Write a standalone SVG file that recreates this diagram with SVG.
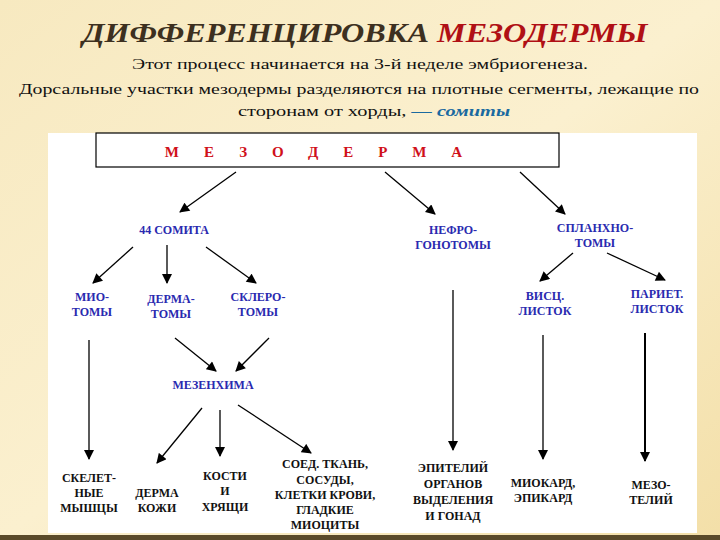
<svg xmlns="http://www.w3.org/2000/svg" width="720" height="540" viewBox="0 0 720 540">
<defs>
<linearGradient id="bg" x1="0" y1="0" x2="1" y2="1"><stop offset="0" stop-color="#f7e9c0"/><stop offset="0.5" stop-color="#fbf0cf"/><stop offset="1" stop-color="#f3dfa8"/></linearGradient>
<marker id="ah" viewBox="0 0 10 10" refX="9" refY="5" markerWidth="11" markerHeight="10" orient="auto" markerUnits="userSpaceOnUse"><path d="M0,0 L10,5 L0,10 z" fill="#000"/></marker>
<style>
.s{font-family:"Liberation Serif","DejaVu Serif Condensed","DejaVu Serif",serif}
.t{font-family:"Liberation Serif","DejaVu Serif Condensed","DejaVu Serif",serif;font-weight:bold;font-size:12px;text-anchor:middle}
.b{fill:#2a2ab0}.k{fill:#111}
.c line{stroke:#000;stroke-width:1.3}
.a{marker-end:url(#ah)}
</style>
</defs>
<rect width="720" height="540" fill="url(#bg)"/>
<rect x="0" y="535" width="720" height="5" fill="#5a4a2a"/>
<text class="s" x="365" y="42" text-anchor="middle" font-weight="bold" font-style="italic" font-size="27" fill="#3d3020" textLength="565" lengthAdjust="spacingAndGlyphs">ДИФФЕРЕНЦИРОВКА <tspan fill="#b01015">МЕЗОДЕРМЫ</tspan></text>
<g class="s" font-size="15" fill="#111" text-anchor="middle">
<text x="360" y="69" textLength="456" lengthAdjust="spacingAndGlyphs">Этот процесс начинается на 3-й неделе эмбриогенеза.</text>
<text x="359" y="94" textLength="680" lengthAdjust="spacingAndGlyphs">Дорсальные участки мезодермы разделяются на плотные сегменты, лежащие по</text>
<text x="374" y="116" textLength="272" lengthAdjust="spacingAndGlyphs">сторонам от хорды, <tspan fill="#1a6aa0" font-weight="bold" font-style="italic">— сомиты</tspan></text>
</g>
<rect x="48" y="133" width="649" height="400" fill="#fff"/>
<g id="mesoderm"><rect x="96" y="133" width="463" height="34" fill="#fff" stroke="#000" stroke-width="1.2"/>
<text class="s" x="326" y="157" text-anchor="middle" font-weight="bold" font-size="15" fill="#d0101a" letter-spacing="25">МЕЗОДЕРМА</text></g>
<g class="c">
<line class="a" x1="236" y1="172" x2="180" y2="212"/>
<line class="a" x1="385" y1="172" x2="435" y2="214"/>
<line class="a" x1="520" y1="172" x2="565" y2="214"/>
<line class="a" x1="133" y1="247" x2="93" y2="283"/>
<line class="a" x1="167" y1="245" x2="167" y2="283"/>
<line class="a" x1="206" y1="247" x2="256" y2="283"/>
<line class="a" x1="573" y1="253" x2="540" y2="281"/>
<line class="a" x1="607" y1="253" x2="665" y2="280"/>
<line class="a" x1="175" y1="338" x2="216" y2="371"/>
<line class="a" x1="269" y1="338" x2="236" y2="371"/>
<line class="a" x1="89" y1="340" x2="89" y2="459"/>
<line class="a" x1="453" y1="290" x2="453" y2="450"/>
<line class="a" x1="543" y1="335" x2="543" y2="459"/>
<line class="a" x1="645" y1="333" x2="645" y2="461" style="stroke-width:2"/>
<line class="a" x1="202" y1="408" x2="157" y2="463"/>
<line class="a" x1="220" y1="410" x2="220" y2="456"/>
<line class="a" x1="238" y1="405" x2="311" y2="453"/>
</g>
<g id="n44"><text class="t b" x="174" y="234">44 СОМИТА</text></g>
<g id="nefro"><text class="t b" x="453" y="234">НЕФРО-</text><text class="t b" x="453" y="249">ГОНОТОМЫ</text></g>
<g id="splan"><text class="t b" x="595" y="232">СПЛАНХНО-</text><text class="t b" x="595" y="247">ТОМЫ</text></g>
<g id="mio"><text class="t b" x="92" y="301">МИО-</text><text class="t b" x="92" y="316">ТОМЫ</text></g>
<g id="derma"><text class="t b" x="171" y="303">ДЕРМА-</text><text class="t b" x="171" y="318">ТОМЫ</text></g>
<g id="sklero"><text class="t b" x="258" y="301">СКЛЕРО-</text><text class="t b" x="258" y="316">ТОМЫ</text></g>
<g id="visc"><text class="t b" x="545" y="300">ВИСЦ.</text><text class="t b" x="545" y="315">ЛИСТОК</text></g>
<g id="pariet"><text class="t b" x="657" y="298">ПАРИЕТ.</text><text class="t b" x="657" y="313">ЛИСТОК</text></g>
<g id="mesench"><text class="t b" x="213" y="389">МЕЗЕНХИМА</text></g>
<g id="skel"><text class="t k" x="89" y="482">СКЕЛЕТ-</text><text class="t k" x="89" y="497">НЫЕ</text><text class="t k" x="89" y="512">МЫШЦЫ</text></g>
<g id="derm"><text class="t k" x="157" y="497">ДЕРМА</text><text class="t k" x="157" y="512">КОЖИ</text></g>
<g id="bones"><text class="t k" x="225" y="480">КОСТИ</text><text class="t k" x="225" y="495">И</text><text class="t k" x="225" y="511">ХРЯЩИ</text></g>
<g id="soed"><text class="t k" x="325" y="468">СОЕД. ТКАНЬ,</text><text class="t k" x="325" y="484">СОСУДЫ,</text><text class="t k" x="325" y="499">КЛЕТКИ КРОВИ,</text><text class="t k" x="325" y="514">ГЛАДКИЕ</text><text class="t k" x="325" y="529">МИОЦИТЫ</text></g>
<g id="epit"><text class="t k" x="453" y="472">ЭПИТЕЛИЙ</text><text class="t k" x="453" y="488">ОРГАНОВ</text><text class="t k" x="453" y="504">ВЫДЕЛЕНИЯ</text><text class="t k" x="453" y="520">И ГОНАД</text></g>
<g id="miok"><text class="t k" x="543" y="487">МИОКАРД,</text><text class="t k" x="543" y="502">ЭПИКАРД</text></g>
<g id="mezot"><text class="t k" x="651" y="489">МЕЗО-</text><text class="t k" x="651" y="504">ТЕЛИЙ</text></g>
</svg>
